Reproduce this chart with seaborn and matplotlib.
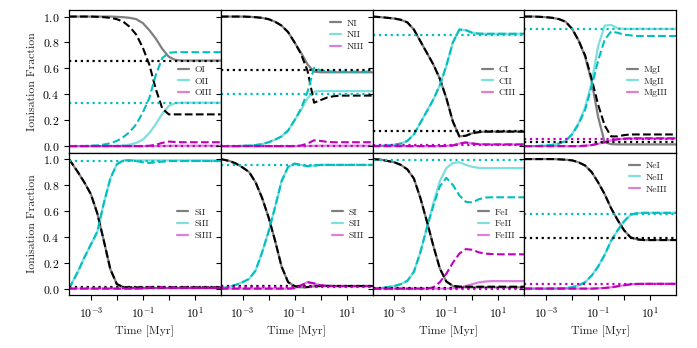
import numpy as np
import matplotlib
matplotlib.use("Agg")
import matplotlib.pyplot as plt
import seaborn as sns

# --- DATA ---
LOG_T = [-3.84, -3.5, -3.25, -3.0, -2.75, -2.5, -2.25, -2.0, -1.75, -1.5, -1.25,
         -1.0, -0.75, -0.5, -0.25, 0.0, 0.25, 0.5, 0.75, 1.0, 1.5, 2.0]
TIME = 10.0 ** np.array(LOG_T)

ELEMENTS = ["O", "N", "C", "Mg", "Si", "S", "Fe", "Ne"]
STAGES = ["I", "II", "III"]
LEGEND_LOC = ["center right", "upper right", "center right", "center right",
              "center right", "center right", "center right", "upper right"]

# oxygen: solid / dashed, equilibrium (dotted)
O_I = [1.0, 1.0, 1.0, 1.0, 1.0, 1.0, 1.0, 0.998, 0.995, 0.99, 0.98, 0.95, 0.895, 0.83, 0.75, 0.69, 0.665, 0.66, 0.66, 0.66, 0.66, 0.66]
O_I_D = [1.0, 1.0, 1.0, 1.0, 0.998, 0.995, 0.99, 0.98, 0.96, 0.92, 0.86, 0.76, 0.63, 0.44, 0.29, 0.245, 0.245, 0.245, 0.245, 0.245, 0.245, 0.245]
O_II = [0, 0, 0, 0, 0, 0, 0.001, 0.002, 0.005, 0.012, 0.025, 0.05, 0.1, 0.17, 0.25, 0.31, 0.333, 0.335, 0.335, 0.335, 0.335, 0.335]
O_II_D = [0, 0, 0.001, 0.003, 0.006, 0.012, 0.022, 0.04, 0.07, 0.11, 0.17, 0.26, 0.37, 0.55, 0.68, 0.72, 0.725, 0.725, 0.725, 0.725, 0.725, 0.725]
O_III = [0, 0, 0, 0, 0, 0, 0, 0, 0, 0, 0, 0, 0, 0, 0.001, 0.002, 0.003, 0.003, 0.003, 0.003, 0.003, 0.003]
O_III_D = [0, 0, 0, 0, 0, 0, 0, 0, 0, 0, 0, 0, 0.003, 0.01, 0.025, 0.035, 0.032, 0.03, 0.03, 0.03, 0.03, 0.03]
O_EQ = [0.66, 0.335, 0.003]

# nitrogen
N_I = [1.0, 1.0, 1.0, 1.0, 0.998, 0.995, 0.99, 0.98, 0.96, 0.93, 0.88, 0.8, 0.72, 0.63, 0.575, 0.57, 0.57, 0.57, 0.57, 0.57, 0.57, 0.57]
N_I_D = [1.0, 1.0, 1.0, 1.0, 0.998, 0.995, 0.99, 0.98, 0.96, 0.93, 0.88, 0.8, 0.71, 0.58, 0.335, 0.355, 0.375, 0.385, 0.39, 0.39, 0.39, 0.39]
N_II = [0, 0, 0, 0.002, 0.004, 0.008, 0.016, 0.03, 0.05, 0.075, 0.12, 0.2, 0.28, 0.37, 0.42, 0.425, 0.425, 0.425, 0.425, 0.425, 0.425, 0.425]
N_II_D = [0, 0, 0, 0.002, 0.004, 0.008, 0.016, 0.03, 0.05, 0.075, 0.12, 0.2, 0.29, 0.42, 0.605, 0.585, 0.578, 0.575, 0.575, 0.575, 0.575, 0.575]
N_III = [0, 0, 0, 0, 0, 0, 0, 0, 0, 0, 0, 0, 0, 0.001, 0.002, 0.003, 0.003, 0.003, 0.003, 0.003, 0.003, 0.003]
N_III_D = [0, 0, 0, 0, 0, 0, 0, 0, 0, 0, 0, 0, 0.005, 0.02, 0.045, 0.04, 0.033, 0.03, 0.03, 0.03, 0.03, 0.03]
N_EQ = [0.585, 0.40, 0.003]

# carbon
C_I = [1.0, 0.995, 0.99, 0.985, 0.975, 0.955, 0.9, 0.81, 0.72, 0.63, 0.52, 0.37, 0.19, 0.075, 0.08, 0.1, 0.108, 0.112, 0.112, 0.112, 0.112, 0.112]
C_I_D = C_I
C_II = [0, 0.003, 0.006, 0.01, 0.02, 0.04, 0.09, 0.18, 0.27, 0.36, 0.47, 0.62, 0.8, 0.9, 0.895, 0.875, 0.868, 0.867, 0.867, 0.867, 0.867, 0.867]
C_II_D = C_II
C_III = [0, 0, 0, 0, 0, 0, 0, 0, 0, 0, 0, 0.002, 0.005, 0.02, 0.028, 0.02, 0.015, 0.013, 0.013, 0.013, 0.013, 0.013]
C_III_D = C_III
C_EQ = [0.113, 0.86, 0.008]

# magnesium
MG_I = [1.0, 1.0, 0.998, 0.995, 0.99, 0.98, 0.96, 0.905, 0.815, 0.69, 0.5, 0.225, 0.03, 0.015, 0.013, 0.013, 0.013, 0.013, 0.013, 0.013, 0.013, 0.013]
MG_I_D = [1.0, 1.0, 0.998, 0.995, 0.99, 0.98, 0.96, 0.905, 0.815, 0.7, 0.52, 0.32, 0.16, 0.075, 0.075, 0.085, 0.09, 0.09, 0.09, 0.09, 0.09, 0.09]
MG_II = [0, 0, 0.002, 0.005, 0.01, 0.02, 0.04, 0.095, 0.18, 0.3, 0.49, 0.77, 0.93, 0.935, 0.91, 0.905, 0.905, 0.905, 0.905, 0.905, 0.905, 0.905]
MG_II_D = [0, 0, 0.002, 0.005, 0.01, 0.02, 0.04, 0.09, 0.17, 0.28, 0.46, 0.66, 0.82, 0.885, 0.875, 0.86, 0.855, 0.85, 0.85, 0.85, 0.85, 0.85]
MG_III = [0, 0, 0, 0, 0, 0, 0, 0, 0, 0.003, 0.008, 0.018, 0.03, 0.045, 0.053, 0.057, 0.06, 0.06, 0.06, 0.06, 0.06, 0.06]
MG_III_D = MG_III
MG_EQ = [0.033, 0.905, 0.054]

# silicon
SI_I = [1.0, 0.9, 0.82, 0.73, 0.58, 0.37, 0.15, 0.035, 0.01, 0.006, 0.005, 0.005, 0.005, 0.005, 0.005, 0.005, 0.005, 0.005, 0.005, 0.005, 0.005, 0.005]
SI_I_D = [1.0, 0.9, 0.82, 0.73, 0.58, 0.37, 0.15, 0.035, 0.012, 0.01, 0.01, 0.01, 0.01, 0.01, 0.01, 0.01, 0.01, 0.01, 0.01, 0.01, 0.01, 0.01]
SI_II = [0.0, 0.13, 0.24, 0.34, 0.44, 0.66, 0.85, 0.96, 0.99, 0.992, 0.99, 0.99, 0.99, 0.99, 0.99, 0.99, 0.99, 0.99, 0.99, 0.99, 0.99, 0.99]
SI_II_D = [0.0, 0.13, 0.24, 0.34, 0.44, 0.66, 0.85, 0.96, 0.99, 0.99, 0.985, 0.975, 0.97, 0.975, 0.98, 0.985, 0.985, 0.985, 0.985, 0.985, 0.985, 0.985]
SI_III = [0, 0, 0, 0, 0, 0, 0, 0, 0, 0, 0, 0.001, 0.002, 0.003, 0.003, 0.003, 0.003, 0.003, 0.003, 0.003, 0.003, 0.003]
SI_III_D = [0, 0, 0, 0, 0, 0, 0, 0, 0, 0, 0, 0.003, 0.01, 0.015, 0.012, 0.01, 0.008, 0.008, 0.008, 0.008, 0.008, 0.008]
SI_EQ = [0.015, 0.985, 0.003]

# sulphur
S_I = [1.0, 0.985, 0.965, 0.935, 0.9, 0.82, 0.7, 0.55, 0.37, 0.17, 0.05, 0.02, 0.01, 0.012, 0.018, 0.02, 0.02, 0.02, 0.02, 0.02, 0.02, 0.02]
S_I_D = S_I
S_II = [0, 0.015, 0.03, 0.05, 0.075, 0.14, 0.28, 0.44, 0.63, 0.83, 0.94, 0.965, 0.955, 0.945, 0.95, 0.955, 0.955, 0.955, 0.955, 0.955, 0.955, 0.955]
S_II_D = S_II
S_III = [0, 0, 0, 0, 0, 0, 0, 0, 0, 0, 0, 0.003, 0.025, 0.05, 0.04, 0.025, 0.022, 0.02, 0.02, 0.02, 0.02, 0.02]
S_III_D = S_III
S_EQ = [0.02, 0.955, 0.015]

# iron
FE_I = [1.0, 0.995, 0.985, 0.975, 0.955, 0.92, 0.85, 0.7, 0.52, 0.33, 0.155, 0.055, 0.02, 0.012, 0.01, 0.01, 0.01, 0.01, 0.01, 0.01, 0.01, 0.01]
FE_I_D = [1.0, 0.995, 0.985, 0.975, 0.955, 0.92, 0.85, 0.7, 0.52, 0.33, 0.155, 0.055, 0.022, 0.016, 0.015, 0.015, 0.015, 0.015, 0.015, 0.015, 0.015, 0.015]
FE_II = [0, 0.005, 0.012, 0.02, 0.035, 0.06, 0.13, 0.28, 0.47, 0.66, 0.83, 0.93, 0.97, 0.975, 0.955, 0.94, 0.932, 0.93, 0.93, 0.93, 0.93, 0.93]
FE_II_D = [0, 0.005, 0.012, 0.02, 0.035, 0.06, 0.13, 0.28, 0.47, 0.64, 0.79, 0.855, 0.8, 0.72, 0.67, 0.665, 0.69, 0.703, 0.705, 0.705, 0.705, 0.705]
FE_III = [0, 0, 0, 0, 0, 0, 0, 0, 0, 0, 0, 0, 0.002, 0.008, 0.02, 0.035, 0.048, 0.055, 0.058, 0.058, 0.058, 0.058]
FE_III_D = [0, 0, 0, 0, 0, 0, 0, 0, 0, 0.01, 0.05, 0.115, 0.2, 0.27, 0.305, 0.3, 0.28, 0.27, 0.267, 0.265, 0.265, 0.265]
FE_EQ = [0.005, 0.995, 0.0]

# neon
NE_I = [1.0, 1.0, 1.0, 1.0, 1.0, 0.998, 0.995, 0.99, 0.975, 0.95, 0.9, 0.82, 0.73, 0.62, 0.53, 0.45, 0.395, 0.38, 0.375, 0.375, 0.375, 0.375]
NE_I_D = NE_I
NE_II = [0, 0, 0, 0, 0.001, 0.002, 0.005, 0.01, 0.025, 0.05, 0.1, 0.17, 0.26, 0.37, 0.45, 0.52, 0.57, 0.583, 0.585, 0.585, 0.585, 0.585]
NE_II_D = NE_II
NE_III = [0, 0, 0, 0, 0, 0, 0, 0, 0, 0, 0, 0.002, 0.005, 0.01, 0.018, 0.026, 0.033, 0.036, 0.037, 0.037, 0.037, 0.037]
NE_III_D = NE_III
NE_EQ = [0.39, 0.577, 0.035]

SOLID = {"O": [O_I, O_II, O_III], "N": [N_I, N_II, N_III], "C": [C_I, C_II, C_III],
         "Mg": [MG_I, MG_II, MG_III], "Si": [SI_I, SI_II, SI_III], "S": [S_I, S_II, S_III],
         "Fe": [FE_I, FE_II, FE_III], "Ne": [NE_I, NE_II, NE_III]}
DASHED = {"O": [O_I_D, O_II_D, O_III_D], "N": [N_I_D, N_II_D, N_III_D], "C": [C_I_D, C_II_D, C_III_D],
          "Mg": [MG_I_D, MG_II_D, MG_III_D], "Si": [SI_I_D, SI_II_D, SI_III_D], "S": [S_I_D, S_II_D, S_III_D],
          "Fe": [FE_I_D, FE_II_D, FE_III_D], "Ne": [NE_I_D, NE_II_D, NE_III_D]}
EQUIL = {"O": O_EQ, "N": N_EQ, "C": C_EQ, "Mg": MG_EQ, "Si": SI_EQ, "S": S_EQ, "Fe": FE_EQ, "Ne": NE_EQ}

# plain matplotlib k / c / m (seaborn remaps the letter codes)
COLORS = ["#000000", "#00bfbf", "#bf00bf"]

# --- STYLE ---
sns.set_theme(style="ticks")
plt.rcParams['font.family'] = ['cmr10', 'DejaVu Serif']
plt.rcParams['mathtext.fontset'] = 'cm'
plt.rcParams['axes.formatter.use_mathtext'] = True
plt.rcParams['axes.unicode_minus'] = False
plt.rcParams['axes.edgecolor'] = 'black'
plt.rcParams['axes.linewidth'] = 0.9

fig, axes = plt.subplots(2, 4, figsize=(6.97, 3.48), dpi=100, sharex=True, sharey=True)
fig.subplots_adjust(left=0.099, right=0.970, top=0.971, bottom=0.152, wspace=0, hspace=0)

for i, (el, ax) in enumerate(zip(ELEMENTS, axes.flat)):
    for k in range(3):
        sns.lineplot(x=TIME, y=SOLID[el][k], ax=ax, color=COLORS[k], alpha=0.5,
                     lw=1.6, label=el + STAGES[k])
    for k in range(3):
        sns.lineplot(x=TIME, y=DASHED[el][k], ax=ax, color=COLORS[k], lw=1.5,
                     linestyle="--")
    for k in range(3):
        ax.axhline(EQUIL[el][k], color=COLORS[k], lw=1.6, linestyle=":")

    ax.set_xscale("log")
    ax.set_xlim(10 ** -3.84, 100)
    ax.set_ylim(-0.05, 1.05)
    ax.set_yticks([0.0, 0.2, 0.4, 0.6, 0.8, 1.0])
    ax.set_xticks([1e-3, 1e-2, 1e-1, 1e0, 1e1])
    ax.set_xticklabels([r"$10^{-3}$", "", r"$10^{-1}$", "", r"$10^{1}$"])
    ax.minorticks_off()
    ax.tick_params(length=3.5, width=0.8, labelsize=8.5, colors="black")
    for s in ax.spines.values():
        s.set_visible(True)
        s.set_color("black")

    ax.legend(loc=LEGEND_LOC[i], frameon=False, fontsize=7, handlelength=1.1,
              labelspacing=0.3, handletextpad=0.6)

    if i % 4 == 0:
        ax.set_ylabel("Ionisation Fraction", fontsize=8.5)
    else:
        ax.set_ylabel("")
    if i >= 4:
        ax.set_xlabel("Time [Myr]", fontsize=8.5)
        ax.tick_params(labelbottom=True)
    else:
        ax.set_xlabel("")
        ax.tick_params(labelbottom=False)

fig.savefig("out.png", dpi=100)
